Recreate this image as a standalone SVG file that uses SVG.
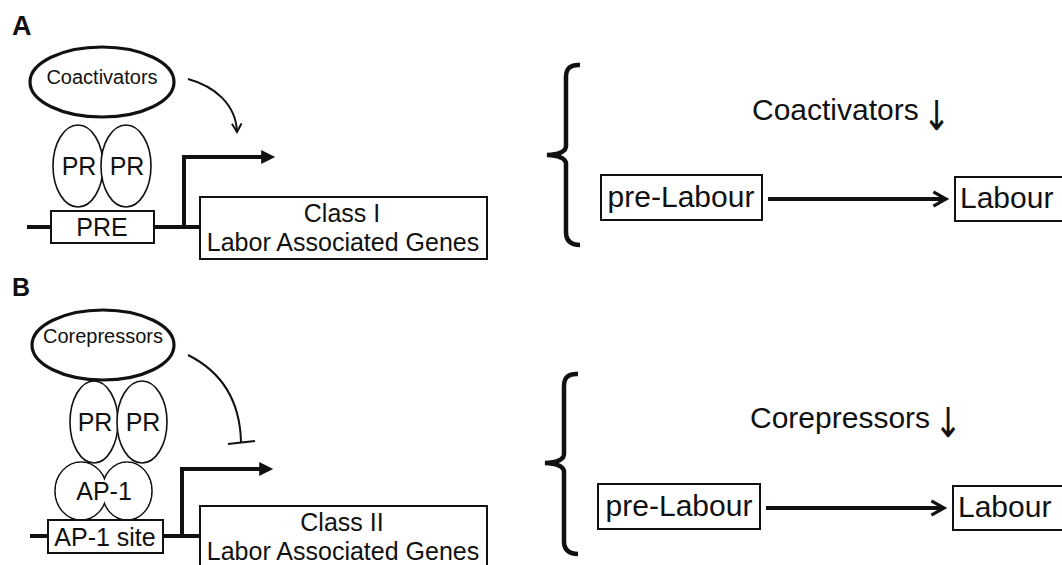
<svg xmlns="http://www.w3.org/2000/svg" width="1062" height="565" viewBox="0 0 1062 565">
<style>
text{font-family:"Liberation Sans",Arial,sans-serif;fill:#111}
.lab{font-weight:bold}
.arr{font-family:"DejaVu Sans",sans-serif;fill:#111;font-size:33px}
.thin{fill:#fff;stroke:#111;stroke-width:1.6}
.thick{fill:#fff;stroke:#111;stroke-width:3.2}
.box{fill:#fff;stroke:#111;stroke-width:2}
.dna{fill:none;stroke:#111;stroke-width:4}
.ln{fill:none;stroke:#111;stroke-width:2}
.brace{fill:none;stroke:#111;stroke-width:4.5;stroke-linecap:butt}
.big{font-size:30px}
.mid{font-size:25px}
.sm{font-size:20px}
</style>
<defs>
<marker id="chev" viewBox="0 0 10 10" refX="8" refY="5" markerWidth="4.5" markerHeight="4.5" orient="auto" markerUnits="strokeWidth">
<polyline points="1,1 8,5 1,9" fill="none" stroke="#111" stroke-width="1.8"/>
</marker>
<marker id="chevs" viewBox="0 0 10 10" refX="8" refY="5" markerWidth="6" markerHeight="6" orient="auto" markerUnits="strokeWidth">
<polyline points="1,1 8,5 1,9" fill="none" stroke="#111" stroke-width="1.6"/>
</marker>
<marker id="tri" viewBox="0 0 10 10" refX="2" refY="5" markerWidth="4" markerHeight="3.5" orient="auto" markerUnits="strokeWidth">
<path d="M0,0 L10,5 L0,10 Z" fill="#111"/>
</marker>
</defs>

<text class="lab" x="12" y="35" font-size="27">A</text>
<text class="lab" x="12" y="296" font-size="25">B</text>

<!-- Panel A -->
<g id="dnaA">
<path class="dna" d="M27,227 L51,227 M154,227 L200,227"/>
</g>
<g id="coactivators">
<ellipse class="thick" cx="102" cy="82" rx="72" ry="35"/>
<text class="sm" x="102" y="84" text-anchor="middle">Coactivators</text>
</g>
<g id="prA">
<ellipse class="thin" cx="78" cy="166" rx="25" ry="41"/>
<ellipse class="thin" cx="126" cy="166" rx="25" ry="41"/>
<text class="mid" x="79" y="175" text-anchor="middle">PR</text>
<text class="mid" x="127" y="175" text-anchor="middle">PR</text>
</g>
<g id="pre">
<rect class="box" x="51" y="211" width="103" height="32"/>
<text class="mid" x="102" y="236" text-anchor="middle">PRE</text>
</g>
<g id="class1">
<rect class="box" x="200" y="197" width="287" height="62"/>
<text class="mid" x="342" y="222" text-anchor="middle" font-size="25.5">Class I</text>
<text class="mid" x="343" y="251" text-anchor="middle" font-size="25.5">Labor Associated Genes</text>
</g>

<!-- Panel B -->
<g id="dnaB">
<path class="dna" d="M30,536 L48,536 M163,536 L200,536"/>
</g>
<g id="corepressors">
<ellipse class="thick" cx="103" cy="345" rx="71" ry="35"/>
<text class="sm" x="103" y="343" text-anchor="middle">Corepressors</text>
</g>
<g id="prB">
<ellipse class="thin" cx="94" cy="422" rx="24" ry="41"/>
<ellipse class="thin" cx="142" cy="422" rx="25" ry="41"/>
<text class="mid" x="95" y="431" text-anchor="middle">PR</text>
<text class="mid" x="143" y="431" text-anchor="middle">PR</text>
</g>
<g id="ap1">
<ellipse cx="81" cy="491" rx="26" ry="29" fill="none" stroke="#111" stroke-width="1.6"/>
<ellipse cx="127" cy="491" rx="25" ry="29" fill="none" stroke="#111" stroke-width="1.6"/>
<ellipse cx="81" cy="491" rx="25.2" ry="28.2" fill="#fff"/>
<ellipse cx="127" cy="491" rx="24.2" ry="28.2" fill="#fff"/>
<text class="mid" x="104" y="500" text-anchor="middle">AP-1</text>
</g>
<g id="ap1site">
<rect class="box" x="48" y="520" width="115" height="33"/>
<text class="mid" x="105" y="546" text-anchor="middle">AP-1 site</text>
</g>
<g id="class2">
<rect class="box" x="200" y="506" width="287" height="70"/>
<text class="mid" x="342" y="531" text-anchor="middle" font-size="25.5">Class II</text>
<text class="mid" x="343" y="560" text-anchor="middle" font-size="25.5">Labor Associated Genes</text>
</g>

<!-- Right panel A -->
<g id="braceA"><path class="brace" d="M580,65 Q566,64 566,77 L566,146 Q566,154 547,155 Q566,156 566,164 L566,232 Q566,245 580,245"/></g>
<g id="coactDown">
<text class="big" x="752" y="120" font-size="29.5">Coactivators</text>
<text class="arr" transform="translate(936.5,130) scale(1,1.25)" x="0" y="0" text-anchor="middle">↓</text>
</g>
<g id="preLabourA">
<rect class="box" x="601" y="175" width="161" height="45"/>
<text class="big" x="681" y="207" text-anchor="middle">pre-Labour</text>
</g>
<g id="labourA">
<rect class="box" x="955" y="177" width="120" height="44"/>
<text class="big" x="960" y="208">Labour</text>
</g>

<!-- Right panel B -->
<g id="braceB"><path class="brace" d="M578,374 Q564,373 564,386 L564,454 Q564,462 545,463 Q564,464 564,472 L564,541 Q564,554 578,554"/></g>
<g id="coreDown">
<text class="big" x="750" y="428" font-size="29.5">Corepressors</text>
<text class="arr" transform="translate(948,437) scale(1,1.25)" x="0" y="0" text-anchor="middle">↓</text>
</g>
<g id="preLabourB">
<rect class="box" x="598" y="484" width="162" height="45"/>
<text class="big" x="679" y="516" text-anchor="middle">pre-Labour</text>
</g>
<g id="labourB">
<rect class="box" x="953" y="486" width="120" height="44"/>
<text class="big" x="958" y="517">Labour</text>
</g>

<!-- Connectors -->
<g id="connectors">
<path class="dna" d="M184,227 L184,157 L264,157" marker-end="url(#tri)"/>
<path class="ln" d="M188,79 C214,86 236,104 237,132" marker-end="url(#chevs)"/>
<path class="dna" d="M182,536 L182,469 L262,469" marker-end="url(#tri)"/>
<path class="ln" d="M188,355 C222,372 240,402 241,442"/>
<path class="ln" d="M228,444 L255,441"/>
<path class="dna" d="M768,199 L946,199" marker-end="url(#chev)"/>
<path class="dna" d="M766,508 L944,508" marker-end="url(#chev)"/>
</g>
</svg>
